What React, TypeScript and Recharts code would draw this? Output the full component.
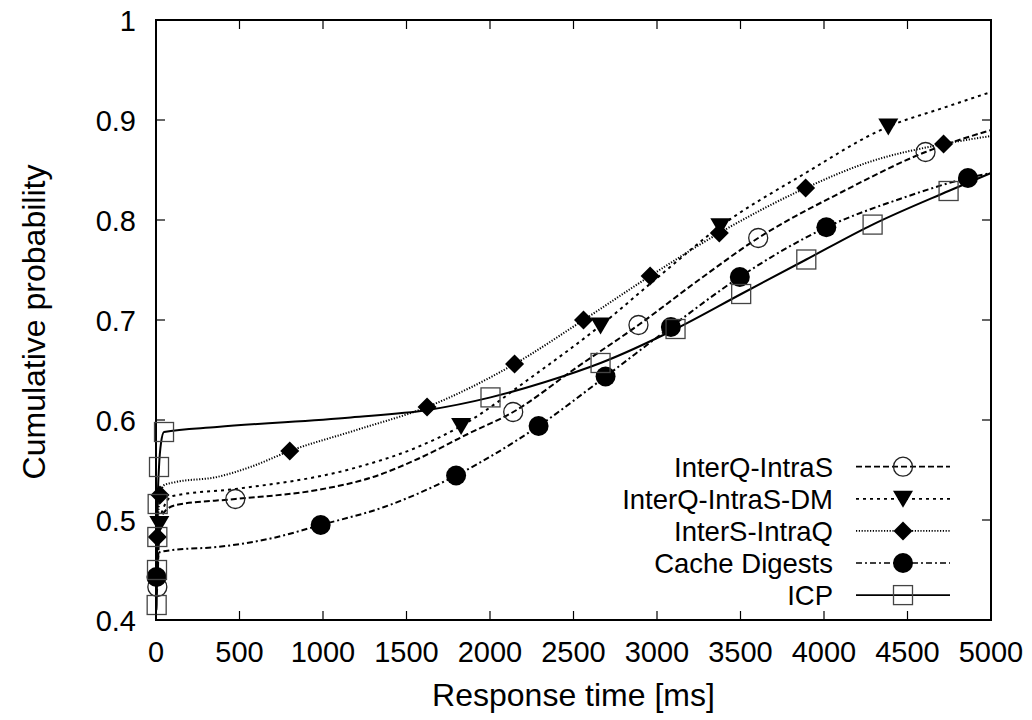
import React from 'react';
import { LineChart, Line, XAxis, YAxis, ReferenceArea, Legend } from 'recharts';

// ---------- data ----------
const X_TICKS = [0, 500, 1000, 1500, 2000, 2500, 3000, 3500, 4000, 4500, 5000];
const Y_TICKS = [0.4, 0.5, 0.6, 0.7, 0.8, 0.9, 1];

const SERIES_NAMES = ['InterQ-IntraS', 'InterQ-IntraS-DM', 'InterS-IntraQ', 'Cache Digests', 'ICP'];

const intraSCurve: [number, number][] = [
  [1, 0.425], [8, 0.433], [15, 0.47], [25, 0.497], [50, 0.508], [120, 0.515], [475, 0.521],
  [966, 0.53], [1300, 0.543], [1567, 0.561], [1867, 0.586], [2139, 0.608], [2514, 0.652],
  [2889, 0.695], [3250, 0.74], [3606, 0.782], [4107, 0.828], [4608, 0.868], [5000, 0.89],
];
const intraSMarks: [number, number][] = [
  [8, 0.433], [475, 0.521], [2139, 0.608], [2889, 0.695], [3606, 0.782], [4608, 0.868],
];

const dmCurve: [number, number][] = [
  [1, 0.43], [10, 0.47], [20, 0.496], [40, 0.51], [100, 0.524], [475, 0.531], [1166, 0.551],
  [1567, 0.573], [1827, 0.594], [2250, 0.643], [2662, 0.6945], [3000, 0.742], [3379, 0.7937],
  [3870, 0.845], [4385, 0.8934], [4712, 0.912], [5000, 0.928],
];
const dmMarks: [number, number][] = [
  [20, 0.496], [1827, 0.594], [2662, 0.6945], [3379, 0.7937], [4385, 0.8934],
];

const interSCurve: [number, number][] = [
  [1, 0.44], [8, 0.483], [24, 0.525], [50, 0.535], [120, 0.538], [365, 0.543], [565, 0.553],
  [801, 0.569], [1200, 0.59], [1623, 0.613], [2147, 0.656], [2560, 0.7], [2959, 0.744],
  [3373, 0.787], [3890, 0.832], [4271, 0.858], [4716, 0.876], [5000, 0.884],
];
const interSMarks: [number, number][] = [
  [8, 0.483], [24, 0.525], [801, 0.569], [1623, 0.613], [2147, 0.656], [2560, 0.7],
  [2959, 0.744], [3373, 0.787], [3890, 0.832], [4716, 0.876],
];

const cacheCurve: [number, number][] = [
  [0, 0.43], [3, 0.443], [10, 0.46], [24, 0.468], [100, 0.47], [365, 0.473], [700, 0.482],
  [986, 0.495], [1366, 0.513], [1797, 0.5445], [2291, 0.594], [2692, 0.6435], [3083, 0.693],
  [3496, 0.743], [4014, 0.7927], [4471, 0.822], [4862, 0.842], [5000, 0.847],
];
const cacheMarks: [number, number][] = [
  [3, 0.443], [986, 0.495], [1797, 0.5445], [2291, 0.594], [2692, 0.6435], [3083, 0.693],
  [3496, 0.743], [4014, 0.7927], [4862, 0.842],
];

const icpCurve: [number, number][] = [
  [2, 0.41], [4, 0.415], [6, 0.45], [8, 0.483], [10, 0.516], [18, 0.553], [30, 0.577],
  [48, 0.588], [365, 0.593], [1166, 0.6026], [1627, 0.61], [2003, 0.6226], [2330, 0.638],
  [2662, 0.657], [3111, 0.691], [3504, 0.726], [3894, 0.7605], [4291, 0.7954], [4746, 0.829],
  [5000, 0.847],
];
const icpMarks: [number, number][] = [
  [4, 0.415], [6, 0.45], [8, 0.483], [10, 0.516], [18, 0.553], [48, 0.588], [2003, 0.6226],
  [2662, 0.657], [3111, 0.691], [3504, 0.726], [3894, 0.7605], [4291, 0.7954], [4746, 0.829],
];

// ---------- layout / style ----------
const W = 1032;
const H = 720;
const PLOT_LEFT = 156;
const PLOT_RIGHT = 991;
const PLOT_TOP = 20;
const PLOT_BOTTOM = 620;
const TICK = 9;
const FONT = '"Liberation Sans", Arial, Helvetica, sans-serif';

type MarkerKind = 'circleOpen' | 'triangleDown' | 'diamond' | 'circleFilled' | 'squareOpen';

const SERIES = [
  { name: SERIES_NAMES[0], curve: intraSCurve, marks: intraSMarks, dash: '6 3', marker: 'circleOpen' as MarkerKind },
  { name: SERIES_NAMES[1], curve: dmCurve, marks: dmMarks, dash: '3 4', marker: 'triangleDown' as MarkerKind },
  { name: SERIES_NAMES[2], curve: interSCurve, marks: interSMarks, dash: '1.2 1.6', marker: 'diamond' as MarkerKind },
  { name: SERIES_NAMES[3], curve: cacheCurve, marks: cacheMarks, dash: '6 3 2 3', marker: 'circleFilled' as MarkerKind },
  { name: SERIES_NAMES[4], curve: icpCurve, marks: icpMarks, dash: undefined as string | undefined, marker: 'squareOpen' as MarkerKind },
];

const toPoints = (arr: [number, number][]) => arr.map(([x, y]) => ({ x, y }));

function Marker({ kind, cx, cy }: { kind: MarkerKind; cx: number; cy: number }) {
  switch (kind) {
    case 'circleOpen':
      return <circle cx={cx} cy={cy} r={9.5} fill="none" stroke="#222" strokeWidth={1.3} />;
    case 'triangleDown':
      return (
        <polygon
          points={`${cx - 10},${cy - 8} ${cx + 10},${cy - 8} ${cx},${cy + 9}`}
          fill="#000"
        />
      );
    case 'diamond':
      return (
        <polygon
          points={`${cx},${cy - 9.5} ${cx + 9.5},${cy} ${cx},${cy + 9.5} ${cx - 9.5},${cy}`}
          fill="#000"
        />
      );
    case 'circleFilled':
      return <circle cx={cx} cy={cy} r={10} fill="#000" />;
    case 'squareOpen':
    default:
      return (
        <rect x={cx - 9.5} y={cy - 9.5} width={19} height={19} fill="none" stroke="#444" strokeWidth={1.3} />
      );
  }
}

const makeDot = (kind: MarkerKind, name: string) => (props: any) => {
  const { cx, cy, index } = props;
  if (cx == null || cy == null) return <g key={`${name}-${index}`} />;
  return (
    <g key={`${name}-${index}`}>
      <Marker kind={kind} cx={cx} cy={cy} />
    </g>
  );
};

const XTick = (props: any) => {
  const { x, payload } = props;
  return (
    <g>
      <line x1={x} x2={x} y1={PLOT_BOTTOM} y2={PLOT_BOTTOM - TICK} stroke="#000" strokeWidth={1.2} />
      <line x1={x} x2={x} y1={PLOT_TOP} y2={PLOT_TOP + TICK} stroke="#000" strokeWidth={1.2} />
      <text x={x} y={PLOT_BOTTOM + 42} textAnchor="middle" fontSize={29} fontFamily={FONT} fill="#000">
        {payload.value}
      </text>
    </g>
  );
};

const YTick = (props: any) => {
  const { y, payload } = props;
  const label = String(Number(Number(payload.value).toFixed(1)));
  return (
    <g>
      <line x1={PLOT_LEFT} x2={PLOT_LEFT + TICK} y1={y} y2={y} stroke="#000" strokeWidth={1.2} />
      <line x1={PLOT_RIGHT} x2={PLOT_RIGHT - TICK} y1={y} y2={y} stroke="#000" strokeWidth={1.2} />
      <text x={136} y={y + 10.5} textAnchor="end" fontSize={29} fontFamily={FONT} fill="#000">
        {label}
      </text>
    </g>
  );
};

const LEG_LEFT = 560;
const LEG_TOP = 440;
const LEG_FONT = 27.5;

const renderLegend = () => (
  <svg width={430} height={180} style={{ overflow: 'visible', display: 'block' }}>
    {SERIES.map((s, i) => {
      const cy = 26.7 + i * 32.1;
      return (
        <g key={s.name}>
          <text x={273} y={cy + 10} textAnchor="end" fontSize={LEG_FONT} fontFamily={FONT} fill="#000">
            {s.name}
          </text>
          <line x1={296} x2={390} y1={cy} y2={cy} stroke="#000" strokeWidth={1.7} strokeDasharray={s.dash} />
          <Marker kind={s.marker} cx={343} cy={cy} />
        </g>
      );
    })}
  </svg>
);

export default function App() {
  return (
    <div style={{ position: 'absolute', left: 0, top: 0, width: W, height: H, background: '#fff' }}>
      <LineChart
        width={W}
        height={H}
        margin={{ top: PLOT_TOP, right: W - PLOT_RIGHT, left: 0, bottom: 0 }}
      >
        <XAxis
          dataKey="x"
          type="number"
          domain={[X_TICKS[0], X_TICKS[X_TICKS.length - 1]]}
          ticks={X_TICKS}
          interval={0}
          height={H - PLOT_BOTTOM}
          axisLine={false}
          tickLine={false}
          tick={<XTick />}
          label={{
            content: () => (
              <text
                x={(PLOT_LEFT + PLOT_RIGHT) / 2}
                y={706}
                textAnchor="middle"
                fontSize={32}
                fontFamily={FONT}
                fill="#000"
              >
                Response time [ms]
              </text>
            ),
          }}
        />
        <YAxis
          type="number"
          domain={[Y_TICKS[0], Y_TICKS[Y_TICKS.length - 1]]}
          ticks={Y_TICKS}
          interval={0}
          width={PLOT_LEFT}
          axisLine={false}
          tickLine={false}
          tick={<YTick />}
          label={{
            content: () => (
              <text
                x={45}
                y={322}
                transform={`rotate(-90 45 322)`}
                textAnchor="middle"
                fontSize={32}
                fontFamily={FONT}
                fill="#000"
              >
                Cumulative probability
              </text>
            ),
          }}
        />
        <ReferenceArea
          x1={X_TICKS[0]}
          x2={X_TICKS[X_TICKS.length - 1]}
          y1={Y_TICKS[0]}
          y2={Y_TICKS[Y_TICKS.length - 1]}
          fill="none"
          fillOpacity={0}
          stroke="#000"
          strokeWidth={2}
          ifOverflow="visible"
        />
        {SERIES.map((s) => (
          <Line
            key={`${s.name}-curve`}
            name={s.name}
            data={toPoints(s.curve)}
            dataKey="y"
            type="monotone"
            stroke="#000"
            strokeWidth={2}
            strokeDasharray={s.dash}
            dot={false}
            activeDot={false}
            isAnimationActive={false}
          />
        ))}
        {SERIES.map((s) => (
          <Line
            key={`${s.name}-marks`}
            name={`${s.name} marks`}
            data={toPoints(s.marks)}
            dataKey="y"
            type="linear"
            stroke="none"
            dot={makeDot(s.marker, s.name)}
            activeDot={false}
            legendType="none"
            isAnimationActive={false}
          />
        ))}
        <Legend
          layout="vertical"
          align="center"
          verticalAlign="middle"
          content={renderLegend}
          wrapperStyle={{ position: 'absolute', left: LEG_LEFT, top: LEG_TOP, width: 430, height: 180 }}
        />
      </LineChart>
    </div>
  );
}
